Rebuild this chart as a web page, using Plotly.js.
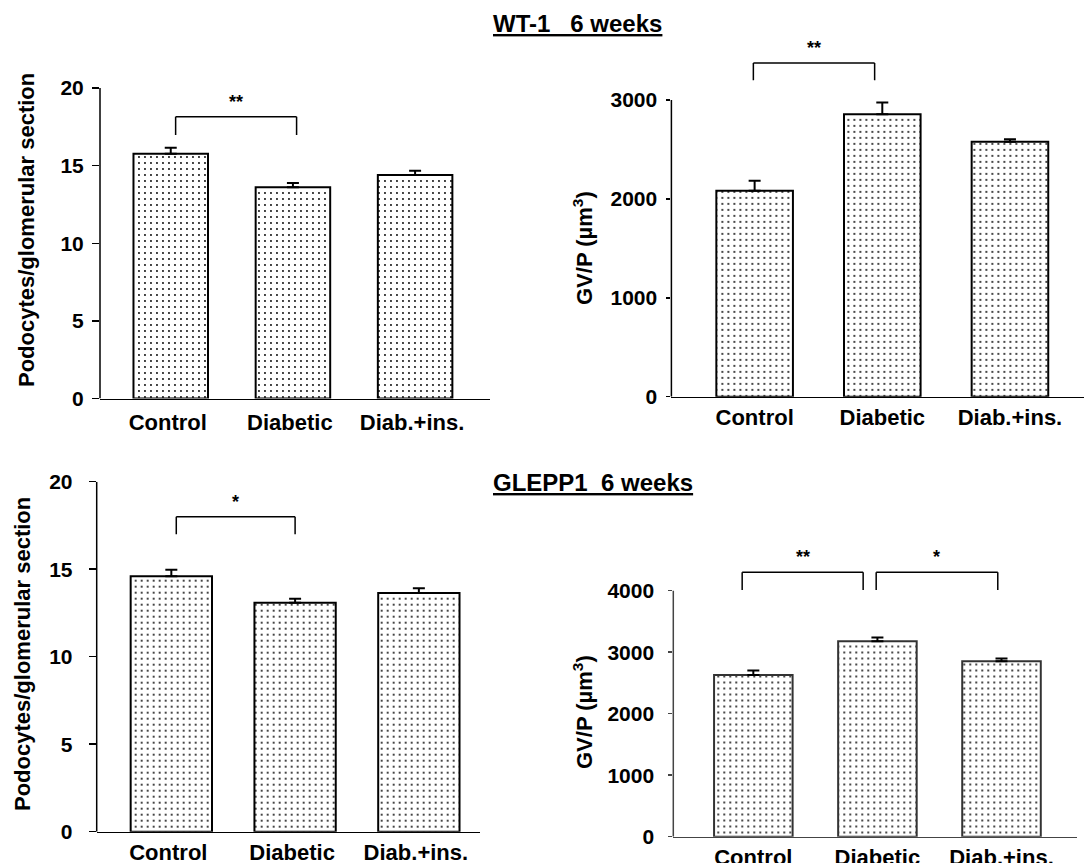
<!DOCTYPE html>
<html><head><meta charset="utf-8">
<script src="https://cdn.plot.ly/plotly-3.0.1.min.js"></script>
<style>html,body{margin:0;padding:0;background:#fff}#chart{width:1085px;height:863px}</style>
</head><body><div id="chart"></div>
<script>
// ---------------- data ----------------
const categories = ['Control', 'Diabetic', 'Diab.+ins.'];

const wt1Podocytes     = [15.77, 13.60, 14.40];
const wt1PodocytesErr  = [0.38, 0.28, 0.27];
const wt1GVP           = [2083, 2855, 2578];
const wt1GVPErr        = [100, 120, 25];

const glepp1Podocytes    = [14.60, 13.09, 13.64];
const glepp1PodocytesErr = [0.37, 0.22, 0.27];
const glepp1GVP          = [2629, 3177, 2852];
const glepp1GVPErr       = [75, 60, 45];

const yTicksPodocytes = [0, 5, 10, 15, 20];
const yTicksGVPwt1    = [0, 1000, 2000, 3000];
const yTicksGVPglepp  = [0, 1000, 2000, 3000, 4000];

// significance brackets: [left x (category index), right x, leg bottom, bracket top, label]
const sigWT1Pod   = [[0.04, 1.03, 16.97, 18.15, '**']];
const sigWT1GVP   = [[-0.01, 0.94, 3200, 3373, '**']];
const sigGLEPPPod = [[0.04, 1.00, 17.0, 18.0, '*']];
const sigGLEPPGVP = [[-0.09, 0.885, 4011, 4298, '**'], [0.99, 1.97, 4011, 4298, '*']];

const titleWT1   = 'WT-1\u00A0\u00A0\u00A06 weeks';
const titleGLEPP = 'GLEPP1\u00A0\u00A06 weeks';
const yTitlePod  = 'Podocytes/glomerular section';
const yTitleGVP  = 'GV/P (\u00B5m<sup>3</sup>)';

// ---------------- layout helpers ----------------
const W = 1085, H = 863;
const FONT = 'Liberation Sans, Arial, Helvetica, sans-serif';
const fx = v => v / W;
const fy = v => 1 - v / H;

const panels = [
  {values: wt1Podocytes, err: wt1PodocytesErr, ticks: yTicksPodocytes, sig: sigWT1Pod,
   axisX: 100, rightX: 490, zeroY: 398.5, refY: 88, refVal: 20, rangeMax: 20,
   xRange: [-0.579, 2.613], barWidth: 0.61, ticklen: 7, yStand: 4, xStand: 4, xShift: -3,
   lineColor: '#000', barLine: '#000', yTitle: yTitlePod, yTitleX: 27, yTitleY: 230},
  {values: wt1GVP, err: wt1GVPErr, ticks: yTicksGVPwt1, sig: sigWT1GVP,
   axisX: 671.4, rightX: 1084, zeroY: 396.7, refY: 100, refVal: 3000, rangeMax: 3800,
   xRange: [-0.652, 2.58], barWidth: 0.60, ticklen: 4, yStand: 5, xStand: 0, xShift: 0,
   lineColor: '#000', barLine: '#000', yTitle: yTitleGVP, yTitleX: 583, yTitleY: 248},
  {values: glepp1Podocytes, err: glepp1PodocytesErr, ticks: yTicksPodocytes, sig: sigGLEPPPod,
   axisX: 96.7, rightX: 480, zeroY: 831.7, refY: 481.7, refVal: 20, rangeMax: 20,
   xRange: [-0.603, 2.494], barWidth: 0.657, ticklen: 7, yStand: 12, xStand: 0, xShift: -3,
   lineColor: '#000', barLine: '#000', yTitle: yTitlePod, yTitleX: 22, yTitleY: 654},
  {values: glepp1GVP, err: glepp1GVPErr, ticks: yTicksGVPglepp, sig: sigGLEPPGVP,
   axisX: 673.3, rightX: 1076.7, zeroY: 836.7, refY: 590.7, refVal: 4000, rangeMax: 4800,
   xRange: [-0.645, 2.606], barWidth: 0.633, ticklen: 4, yStand: 10, xStand: 0, xShift: 0,
   lineColor: '#444', barLine: '#333', yTitle: yTitleGVP, yTitleX: 583, yTitleY: 712}
];

const data = [];
const layout = {
  width: W, height: H,
  margin: {l: 0, r: 0, t: 0, b: 0},
  paper_bgcolor: '#fff', plot_bgcolor: 'rgba(0,0,0,0)',
  showlegend: false,
  font: {family: FONT, color: '#000'},
  shapes: [], annotations: []
};

panels.forEach((p, i) => {
  const n = i === 0 ? '' : String(i + 1);
  const xr = 'x' + n, yr = 'y' + n;
  const topPx = p.zeroY - (p.zeroY - p.refY) * p.rangeMax / p.refVal;

  data.push({
    type: 'bar', x: categories, y: p.values, xaxis: xr, yaxis: yr,
    width: p.barWidth,
    marker: {color: '#fff', line: {color: p.barLine, width: 2},
             pattern: {shape: '.', fgcolor: '#000', bgcolor: '#fff', size: 6, solidity: 0.08}},
    error_y: {type: 'data', symmetric: false, array: p.err, arrayminus: p.err.map(() => 0),
              color: '#000', thickness: 2, width: 6},
    hoverinfo: 'x+y'
  });

  layout['xaxis' + n] = {
    domain: [fx(p.axisX), fx(p.rightX)], range: p.xRange, type: 'category',
    anchor: yr, showline: true, linecolor: p.lineColor, linewidth: 1.5,
    ticks: '', showgrid: false, zeroline: false, fixedrange: true,
    ticklabelstandoff: p.xStand, ticklabelshift: p.xShift,
    tickfont: {family: FONT, size: 22, color: '#000', weight: 'bold'}
  };
  layout['yaxis' + n] = {
    domain: [fy(p.zeroY), fy(topPx)], range: [0, p.rangeMax], anchor: xr,
    showline: false, showgrid: false, zeroline: false, fixedrange: true,
    ticks: 'outside', ticklen: p.ticklen, tickwidth: 1.5, tickcolor: p.lineColor,
    tickmode: 'array', tickvals: p.ticks, ticktext: p.ticks.map(String),
    ticklabelstandoff: p.yStand,
    tickfont: {family: FONT, size: 21, color: '#000', weight: 'bold'}
  };

  // y-axis spine from 0 to top tick
  layout.shapes.push({type: 'line', xref: xr + ' domain', yref: yr,
    x0: 0, x1: 0, y0: p.ticks[0], y1: p.ticks[p.ticks.length - 1],
    line: {color: p.lineColor, width: 1.5}});

  // significance brackets
  p.sig.forEach(s => {
    const [l, r, leg, top, label] = s;
    const ln = {color: '#000', width: 1.5};
    layout.shapes.push({type: 'line', xref: xr, yref: yr, x0: l, x1: r, y0: top, y1: top, line: ln});
    layout.shapes.push({type: 'line', xref: xr, yref: yr, x0: l, x1: l, y0: leg, y1: top, line: ln});
    layout.shapes.push({type: 'line', xref: xr, yref: yr, x0: r, x1: r, y0: leg, y1: top, line: ln});
    layout.annotations.push({xref: xr, yref: yr, x: (l + r) / 2, y: top, text: label,
      showarrow: false, xanchor: 'center', yanchor: 'bottom', yshift: 3,
      font: {family: FONT, size: 18, color: '#000', weight: 'bold'}});
  });

  // y-axis title
  layout.annotations.push({xref: 'paper', yref: 'paper', x: fx(p.yTitleX), y: fy(p.yTitleY),
    text: p.yTitle, textangle: -90, showarrow: false, xanchor: 'center', yanchor: 'middle',
    font: {family: FONT, size: 22, color: '#000', weight: 'bold'}});
});

// panel-group titles
layout.annotations.push({xref: 'paper', yref: 'paper', x: fx(664), y: fy(24),
  text: '<u>' + titleWT1 + '</u>', showarrow: false, xanchor: 'right', yanchor: 'middle',
  font: {family: FONT, size: 24, color: '#000', weight: 'bold'}});
layout.annotations.push({xref: 'paper', yref: 'paper', x: fx(695), y: fy(482),
  text: '<u>' + titleGLEPP + '</u>', showarrow: false, xanchor: 'right', yanchor: 'middle',
  font: {family: FONT, size: 24, color: '#000', weight: 'bold'}});

Plotly.newPlot('chart', data, layout, {staticPlot: true, displayModeBar: false});
</script>
</body></html>
